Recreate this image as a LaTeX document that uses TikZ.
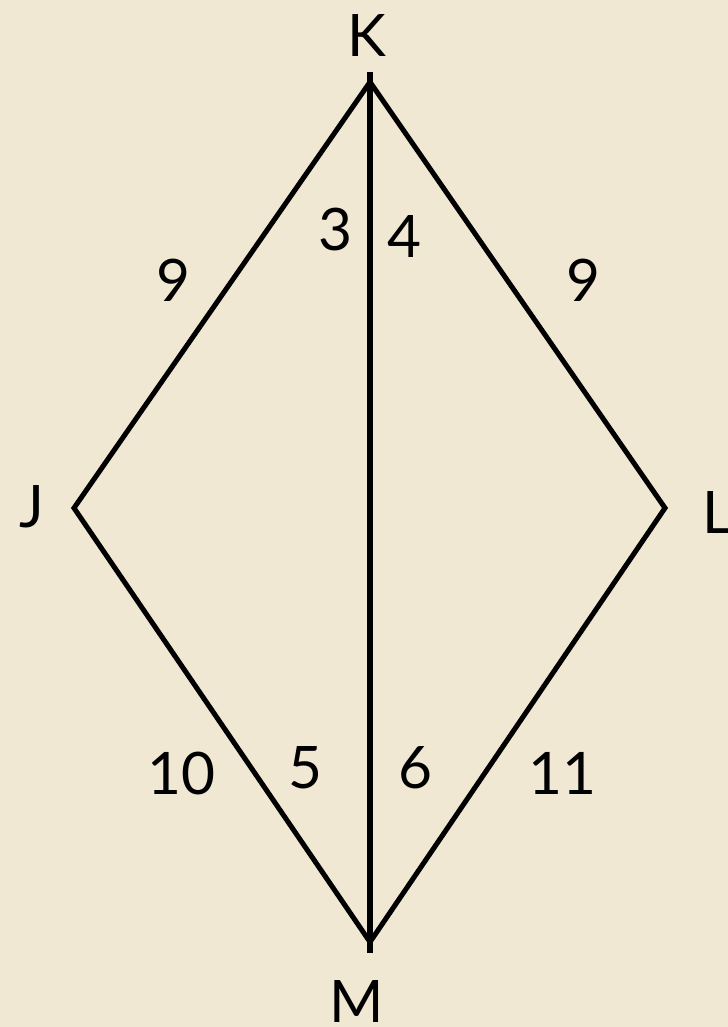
\documentclass[tikz,border=0pt]{standalone}
\usepackage{fontspec}
\setmainfont{Lato}
\definecolor{papel}{RGB}{240,232,210}
\usetikzlibrary{positioning,calc}
\tikzset{
  lado/.style={line width=4.3pt, black, line join=miter},
  rotulo/.style={font=\fontsize{50}{60}\selectfont, inner sep=0pt},
}

\begin{document}
\begin{tikzpicture}[x=0.03cm, y=-0.03cm]
  \fill[papel] (0,0) rectangle (728,1027);
  \useasboundingbox (0,0) rectangle (728,1027);
  % vertices
  \coordinate (K) at (370,82);
  \coordinate (J) at (74,508);
  \coordinate (L) at (665,508);
  \coordinate (M) at (370,942);
  \draw[lado] (K) -- (L) -- (M) -- (J) -- cycle;
  \draw[lado, shorten <=-10*0.03cm, shorten >=-11*0.03cm] (K) -- (M);
  % vertex names
  \node[rotulo] (nK) at (367,36) {K};
  \node[rotulo] (nJ) at (32,507) {J};
  \node[rotulo] (nL) at (718,513) {L};
  \node[rotulo] (nM) at (357,1002) {M};
  % numbers
  \node[rotulo] (n9a) at (173,280) {9};
  \node[rotulo] (n3) at (335,230) {3};
  \node[rotulo] (n4) at (404,237) {4};
  \node[rotulo] (n9b) at (583,280) {9};
  \node[rotulo] (n10) at (181,773) {10};
  \node[rotulo] (n5) at (305,768) {5};
  \node[rotulo] (n6) at (415,768) {6};
  \node[rotulo] (n11) at (562,773) {11};
\end{tikzpicture}
\end{document}
